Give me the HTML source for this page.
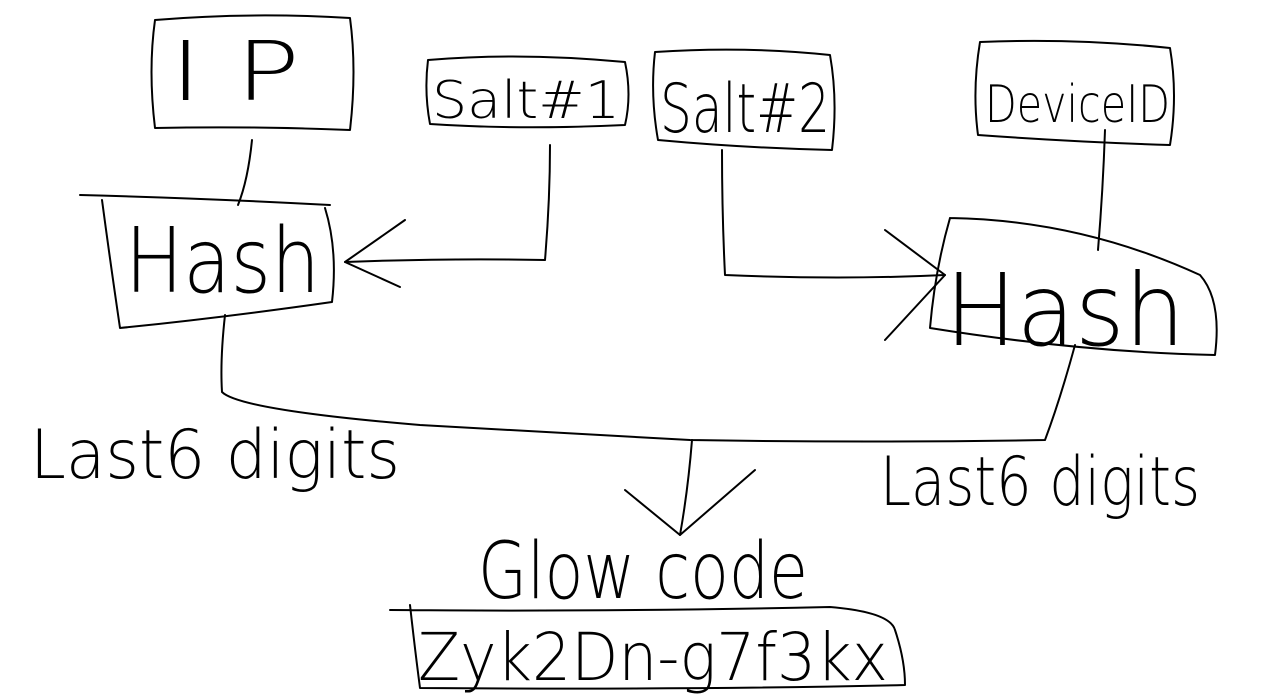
<!DOCTYPE html>
<html><head><meta charset="utf-8"><style>
html,body{margin:0;padding:0;background:#fff;}
svg{display:block}
text{font-family:"DejaVu Sans","Liberation Sans",sans-serif;font-weight:200;fill:#000;stroke:none;}
</style></head><body>
<svg width="1265" height="695" viewBox="0 0 1265 695" xmlns="http://www.w3.org/2000/svg">
<g fill="none" stroke="#000" stroke-width="2" stroke-linecap="round" stroke-linejoin="round">
<path d="M155 20 Q250 12 350 18 Q357 70 350 130 Q250 126 155 128 Q148 70 155 20"/>
<path d="M428 60 Q520 52 625 62 Q632 95 625 125 Q520 130 430 124 Q424 92 428 60"/>
<path d="M655 52 Q745 46 830 55 Q838 100 832 150 Q745 148 658 140 Q650 95 655 52"/>
<path d="M980 42 Q1075 38 1170 48 Q1178 95 1170 145 Q1075 142 978 135 Q972 90 980 42"/>
<path d="M80 195 Q200 198 330 205"/>
<path d="M102 200 Q110 260 120 328 Q220 318 332 302 Q338 250 325 208"/>
<path d="M950 218 Q1080 220 1200 275 Q1222 300 1215 355 Q1080 352 930 328 Q935 270 950 218"/>
<path d="M252 140 Q248 180 238 205"/>
<path d="M550 145 Q550 200 545 260 Q450 258 345 262"/>
<path d="M405 220 L345 262 L400 287"/>
<path d="M722 150 Q722 215 725 275 Q840 280 945 275"/>
<path d="M885 230 L945 275 L885 340"/>
<path d="M1105 130 Q1103 190 1098 250"/>
<path d="M225 315 Q220 360 222 392 Q240 410 420 425 Q600 435 690 440 Q870 443 1045 440 Q1060 400 1075 345"/>
<path d="M692 440 Q688 490 680 535"/>
<path d="M625 490 L680 535 L755 470"/>
<path d="M390 610 Q600 612 830 607 Q890 612 895 630 Q905 660 905 685 Q700 690 420 688 Q415 650 410 605"/>
</g>
<text x="170" y="100" font-size="82" textLength="130" lengthAdjust="spacingAndGlyphs">I P</text>
<text x="432" y="118" font-size="52" textLength="188" lengthAdjust="spacingAndGlyphs">Salt#1</text>
<text x="660" y="132" font-size="68" textLength="170" lengthAdjust="spacingAndGlyphs">Salt#2</text>
<text x="985" y="122" font-size="52" textLength="185" lengthAdjust="spacingAndGlyphs">DeviceID</text>
<text x="125" y="292" font-size="90" textLength="195" lengthAdjust="spacingAndGlyphs">Hash</text>
<text x="945" y="345" font-size="100" textLength="240" lengthAdjust="spacingAndGlyphs">Hash</text>
<text x="30" y="478" font-size="68" textLength="370" lengthAdjust="spacingAndGlyphs">Last6 digits</text>
<text x="880" y="505" font-size="68" textLength="320" lengthAdjust="spacingAndGlyphs">Last6 digits</text>
<text x="478" y="598" font-size="78" textLength="330" lengthAdjust="spacingAndGlyphs">Glow code</text>
<text x="418" y="680" font-size="66" textLength="470" lengthAdjust="spacingAndGlyphs">Zyk2Dn-g7f3kx</text>
</svg>
</body></html>
